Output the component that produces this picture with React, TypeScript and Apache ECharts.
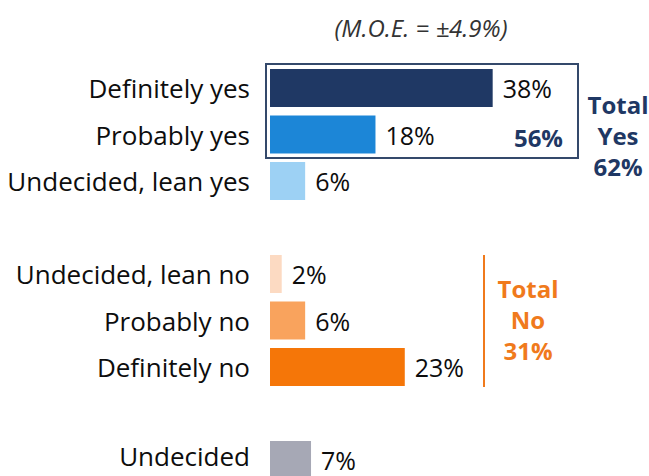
import React, { useEffect, useRef } from "react";
import * as echarts from "echarts";

const categories = [
  "Definitely yes",
  "Probably yes",
  "Undecided, lean yes",
  "",
  "Undecided, lean no",
  "Probably no",
  "Definitely no",
  "",
  "Undecided",
];
const values: (number | null)[] = [38, 18, 6, null, 2, 6, 23, null, 7];
const barColors = [
  "#1f3864",
  "#1c86d7",
  "#9dd1f4",
  "transparent",
  "#fcdac2",
  "#f9a35d",
  "#f57608",
  "transparent",
  "#a6a8b5",
];
const subtitle = "(M.O.E. = ±4.9%)";
const yesSubtotal = "56%";
const totalYes = ["Total", "Yes", "62%"];
const totalNo = ["Total", "No", "31%"];

const FONT = "'Open Sans', 'Noto Sans', sans-serif";
const NAVY = "#1f3864";
const ORANGE = "#f07a1c";

export default function App() {
  const ref = useRef<HTMLDivElement>(null);
  useEffect(() => {
    if (!ref.current) return;
    const chart = echarts.init(ref.current, undefined, { renderer: "svg" });
    const lastLabel = categories[categories.length - 1];
    const option: any = {
      animation: false,
      backgroundColor: "#ffffff",
      grid: { left: 270, top: 64.75, width: 351.6, height: 418.5 },
      xAxis: { type: "value", min: 0, max: 60, show: false },
      yAxis: {
        type: "category",
        data: categories,
        inverse: true,
        axisLine: { show: false },
        axisTick: { show: false },
        splitLine: { show: false },
        axisLabel: {
          margin: 20,
          fontSize: 26,
          lineHeight: 20,
          color: "#0d0d0d",
          fontFamily: FONT,
          formatter: (v: string) => (v === lastLabel ? `{u|${v}}` : v),
          rich: {
            u: {
              fontSize: 26,
              lineHeight: 20,
              color: "#0d0d0d",
              fontFamily: FONT,
              padding: [0, 0, 8, 0],
            },
          },
        },
      },
      series: [
        {
          type: "bar",
          barWidth: 38,
          data: values.map((v, i) =>
            v == null ? null : { value: v, itemStyle: { color: barColors[i] } }
          ),
          label: {
            show: true,
            position: "right",
            distance: 10,
            formatter: "{c}%",
            fontSize: 25,
            lineHeight: 20,
            color: "#0d0d0d",
            fontFamily: FONT,
          },
        },
      ],
      graphic: [
        {
          type: "text",
          x: 421,
          y: 27,
          style: {
            text: subtitle,
            font: `italic 24px ${FONT}`,
            fill: "#333333",
            align: "center",
            verticalAlign: "middle",
          },
        },
        {
          type: "rect",
          shape: { x: 266, y: 64, width: 312, height: 94 },
          style: { fill: "transparent", stroke: "#34496b", lineWidth: 2 },
        },
        {
          type: "text",
          x: 563,
          y: 137,
          style: {
            text: yesSubtotal,
            font: `bold 24px ${FONT}`,
            fill: NAVY,
            align: "right",
            verticalAlign: "middle",
          },
        },
        ...totalYes.map((t, i) => ({
          type: "text",
          x: 618,
          y: 104 + i * 31,
          style: {
            text: t,
            font: `bold 24px ${FONT}`,
            fill: NAVY,
            align: "center",
            verticalAlign: "middle",
          },
        })),
        {
          type: "line",
          shape: { x1: 484, y1: 255, x2: 484, y2: 387 },
          style: { stroke: ORANGE, lineWidth: 2 },
        },
        ...totalNo.map((t, i) => ({
          type: "text",
          x: 528,
          y: 288 + i * 31,
          style: {
            text: t,
            font: `bold 24px ${FONT}`,
            fill: ORANGE,
            align: "center",
            verticalAlign: "middle",
          },
        })),
      ],
    };
    chart.setOption(option);
    return () => chart.dispose();
  }, []);
  return (
    <div
      ref={ref}
      style={{
        position: "fixed",
        left: 0,
        top: 0,
        width: 649,
        height: 500,
        background: "#ffffff",
      }}
    />
  );
}
